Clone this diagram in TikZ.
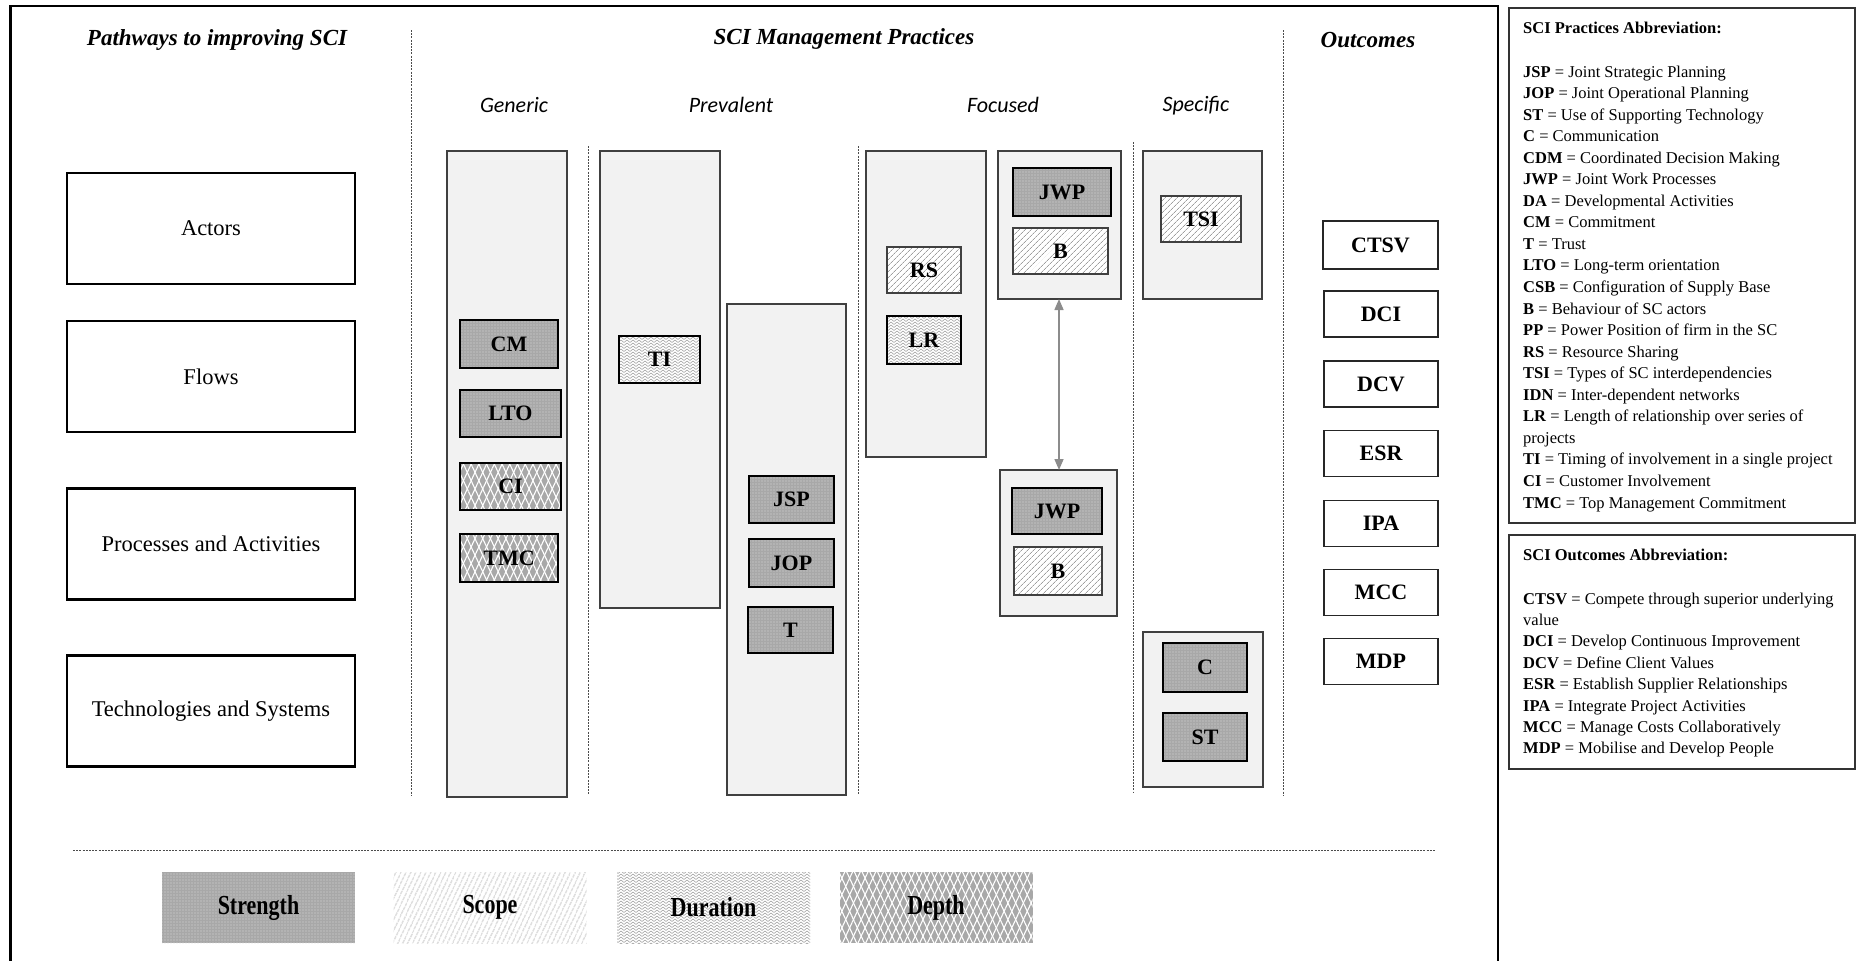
\documentclass[tikz,border=0pt]{standalone}
\usepackage{fontspec}
\setmainfont{Liberation Serif}
\newfontfamily\subfont{Carlito}
\usetikzlibrary{patterns,patterns.meta,arrows.meta}

% zigzag weave used for the "Duration" dimension
\pgfdeclarepatternformonly{weave}{\pgfqpoint{-1pt}{-1pt}}{\pgfqpoint{7pt}{7pt}}{\pgfqpoint{6pt}{6pt}}{%
  \pgfsetlinewidth{0.55pt}%
  \pgfpathmoveto{\pgfqpoint{0pt}{0.5pt}}\pgfpathlineto{\pgfqpoint{3pt}{3pt}}\pgfpathlineto{\pgfqpoint{6pt}{0.5pt}}%
  \pgfpathmoveto{\pgfqpoint{0pt}{3.5pt}}\pgfpathlineto{\pgfqpoint{3pt}{6pt}}\pgfpathlineto{\pgfqpoint{6pt}{3.5pt}}%
  \pgfusepath{stroke}}

\tikzset{
  sz/.style 2 args={minimum width=#1pt, minimum height=#2pt},
  cont/.style={draw=black!75, line width=1.2pt, fill=black!5, inner sep=0pt, outer sep=0pt},
  tag/.style={inner sep=0pt, outer sep=0pt, font=\fontsize{22}{26}\selectfont\bfseries},
  thickrim/.style={draw=black, line width=2.5pt},
  thinrim/.style={draw=black!75, line width=1.2pt},
  strength/.style={tag, preaction={fill=black!34}, pattern={Dots[distance=3pt,radius=0.6pt]}, pattern color=black!14},
  scope/.style={tag, preaction={fill=white}, pattern={Lines[angle=45,distance=4pt,line width=0.8pt]}, pattern color=black!38},
  scopelegend/.style={tag, preaction={fill=white}, pattern={Lines[angle=65,distance=4pt,line width=0.8pt]}, pattern color=black!35},
  duration/.style={tag, preaction={fill=white}, pattern=weave, pattern color=black!38},
  depth/.style={tag, preaction={fill=black!34},
    preaction={pattern={Lines[angle=65,distance=7pt,line width=1.1pt]}, pattern color=white},
    pattern={Lines[angle=-65,distance=7pt,line width=1.1pt]}, pattern color=white},
  pbox/.style={draw=black, line width=2.5pt, fill=white, inner sep=0pt, sz={288}{111}, font=\fontsize{22.5}{27}\selectfont},
  obox/.style={draw=black!85, line width=1.4pt, fill=white, inner sep=0pt, sz={114}{46}, font=\fontsize{22}{26}\selectfont\bfseries},
  head/.style={inner sep=0pt, font=\fontsize{23}{27}\selectfont\bfseries\itshape},
  subhead/.style={inner sep=0pt, font=\fontsize{22}{26}\selectfont\subfont\itshape},
  sep/.style={draw=black!70, line width=0.9pt, dash pattern=on 2pt off 1.2pt},
  legend/.style={inner sep=0pt, sz={193}{71}},
  pline/.style={inner sep=0pt, anchor=base west, font=\fontsize{16.5}{20}\selectfont},
  panel/.style={draw=black!80, line width=1.4pt},
}
\newcommand{\lowered}[1]{\raisebox{-3pt}{#1}}
\newcommand{\lowermore}[1]{\raisebox{-6pt}{#1}}
\newcommand{\tallword}[1]{\scalebox{1}[1.25]{#1}}

\begin{document}
\begin{tikzpicture}[x=1pt, y=-1pt]
\useasboundingbox (0,0) rectangle (1856,961);

% outer frame of the framework (open at the bottom)
\draw[line width=2.4pt] (10.5,961) -- (10.5,6) -- (1498,6) -- (1498,961);

% column headings
\node[head] (hpath) at (217,40.5) {Pathways to improving SCI};
\node[head] (hmgmt) at (844,38.5) {SCI Management Practices};
\node[head] (hout)  at (1368,40.5) {Outcomes};
\node[subhead] (sgen)  at (514,105) {Generic};
\node[subhead] (sprev) at (731,105) {Prevalent};
\node[subhead] (sfoc)  at (1003,105) {Focused};
\node[subhead] (sspec) at (1196,106) {Specific};

% column separators
\draw[sep] (411,30) -- (411,795);
\draw[sep] (588,146) -- (588,795);
\draw[sep] (858,146) -- (858,795);
\draw[sep] (1133,142) -- (1133,792);
\draw[sep] (1283,30) -- (1283,795);
\draw[sep] (73,850) -- (1436,850);

% pathways
\node[pbox] (actors) at (211,228.5) {\lowermore{Actors}};
\node[pbox] (flows)  at (211,376.5) {\lowermore{Flows}};
\node[pbox] (procs)  at (211,544)   {\lowermore{Processes and Activities}};
\node[pbox] (techs)  at (211,711)   {\lowermore{Technologies and Systems}};

% practice containers
\node[cont, sz={120}{646}] (gen)   at (507,474)     {};
\node[cont, sz={120}{457}] (prev1) at (660,379.5)   {};
\node[cont, sz={119}{491}] (prev2) at (786.5,549.5) {};
\node[cont, sz={120}{306}] (foc1)  at (926,304)     {};
\node[cont, sz={123}{148}] (foc2a) at (1059.5,225)  {};
\node[cont, sz={117}{146}] (foc2b) at (1058.5,543)  {};
\node[cont, sz={119}{148}] (spec1) at (1202.5,225)  {};
\node[cont, sz={120}{155}] (spec2) at (1203,709.5)  {};

% generic practices
\node[strength, thickrim, sz={98}{48}]  (cm)  at (509,344)     {\lowered{CM}};
\node[strength, thickrim, sz={101}{47}] (lto) at (510.5,413.5) {\lowered{LTO}};
\node[depth, thickrim, sz={101}{47}]    (ci)  at (510.5,486.5) {\lowered{CI}};
\node[depth, thickrim, sz={98}{48}]     (tmc) at (509,558)     {\lowered{TMC}};

% prevalent practices
\node[duration, thickrim, sz={81}{47}] (ti)  at (659.5,359.5) {\lowered{TI}};
\node[strength, thickrim, sz={85}{47}] (jsp) at (791.5,499.5) {JSP};
\node[strength, thickrim, sz={85}{48}] (jop) at (791.5,563)   {JOP};
\node[strength, thickrim, sz={85}{46}] (t)   at (790.5,630)   {T};

% focused practices
\node[scope, thinrim, sz={74}{46}]     (rs)   at (924,270)    {\lowered{RS}};
\node[duration, thickrim, sz={74}{48}] (lr)   at (924,340)    {\lowered{LR}};
\node[strength, thickrim, sz={98}{48}] (jwpa) at (1062,192)   {JWP};
\node[scope, thinrim, sz={95}{46}]     (ba)   at (1060.5,251) {B};
\node[strength, thickrim, sz={90}{46}] (jwpb) at (1057,511)   {JWP};
\node[scope, thinrim, sz={88}{48}]     (bb)   at (1058,571)   {B};

% specific practices
\node[scope, thinrim, sz={80}{46}]     (tsi) at (1201,219)   {TSI};
\node[strength, thickrim, sz={84}{49}] (c)   at (1205,667.5) {C};
\node[strength, thickrim, sz={84}{48}] (st)  at (1205,737)   {ST};

% link between the two focused groups
\draw[black!45, line width=1.5pt, {Triangle[length=11pt,width=9pt]}-{Triangle[length=11pt,width=9pt]}]
  (foc2a.south -| 1059,0) -- (foc2b.north -| 1059,0);

% outcomes
\node[obox, sz={115}{48}] (ctsv) at (1380.5,245) {\lowered{CTSV}};
\node[obox] (dci) at (1381,314)   {DCI};
\node[obox] (dcv) at (1381,384)   {DCV};
\node[obox] (esr) at (1381,453.5) {ESR};
\node[obox] (ipa) at (1381,523.5) {IPA};
\node[obox] (mcc) at (1381,592.5) {MCC};
\node[obox] (mdp) at (1381,661.5) {MDP};

% legend of the four dimensions
\node[legend, strength]    (lgstr) at (258.5,907.5) {\tallword{Strength}};
\node[legend, scopelegend] (lgsco) at (490,907.5)   {\tallword{Scope}};
\node[legend, duration]    (lgdur) at (713.5,907.5) {\tallword{Duration}};
\node[legend, depth]       (lgdep) at (936,907.5)   {\tallword{Depth}};

% abbreviation panels
\draw[panel] (1509,8) rectangle (1855,523);
\draw[panel] (1509,535) rectangle (1855,769);

\node[pline] (ptitle) at (1523,33) {\textbf{SCI Practices Abbreviation:}};
\foreach \t [count=\i] in {
  {\textbf{JSP} = Joint Strategic Planning},
  {\textbf{JOP} = Joint Operational Planning},
  {\textbf{ST} = Use of Supporting Technology},
  {\textbf{C} = Communication},
  {\textbf{CDM} = Coordinated Decision Making},
  {\textbf{JWP} = Joint Work Processes},
  {\textbf{DA} = Developmental Activities},
  {\textbf{CM} = Commitment},
  {\textbf{T} = Trust},
  {\textbf{LTO} = Long-term orientation},
  {\textbf{CSB} = Configuration of Supply Base},
  {\textbf{B} = Behaviour of SC actors},
  {\textbf{PP} = Power Position of firm in the SC},
  {\textbf{RS} = Resource Sharing},
  {\textbf{TSI} = Types of SC interdependencies},
  {\textbf{IDN} = Inter-dependent networks},
  {\textbf{LR} = Length of relationship over series of},
  {projects},
  {\textbf{TI} = Timing of involvement in a single project},
  {\textbf{CI} = Customer Involvement},
  {\textbf{TMC} = Top Management Commitment}}
  \node[pline] (pa\i) at ({1523},{77+21.55*(\i-1)}) {\t};

\node[pline] (otitle) at (1523,560) {\textbf{SCI Outcomes Abbreviation:}};
\foreach \t [count=\i] in {
  {\textbf{CTSV} = Compete through superior underlying},
  {value},
  {\textbf{DCI} = Develop Continuous Improvement},
  {\textbf{DCV} = Define Client Values},
  {\textbf{ESR} = Establish Supplier Relationships},
  {\textbf{IPA} = Integrate Project Activities},
  {\textbf{MCC} = Manage Costs Collaboratively},
  {\textbf{MDP} = Mobilise and Develop People}}
  \node[pline] (oa\i) at ({1523},{604+21.4*(\i-1)}) {\t};
\end{tikzpicture}
\end{document}
